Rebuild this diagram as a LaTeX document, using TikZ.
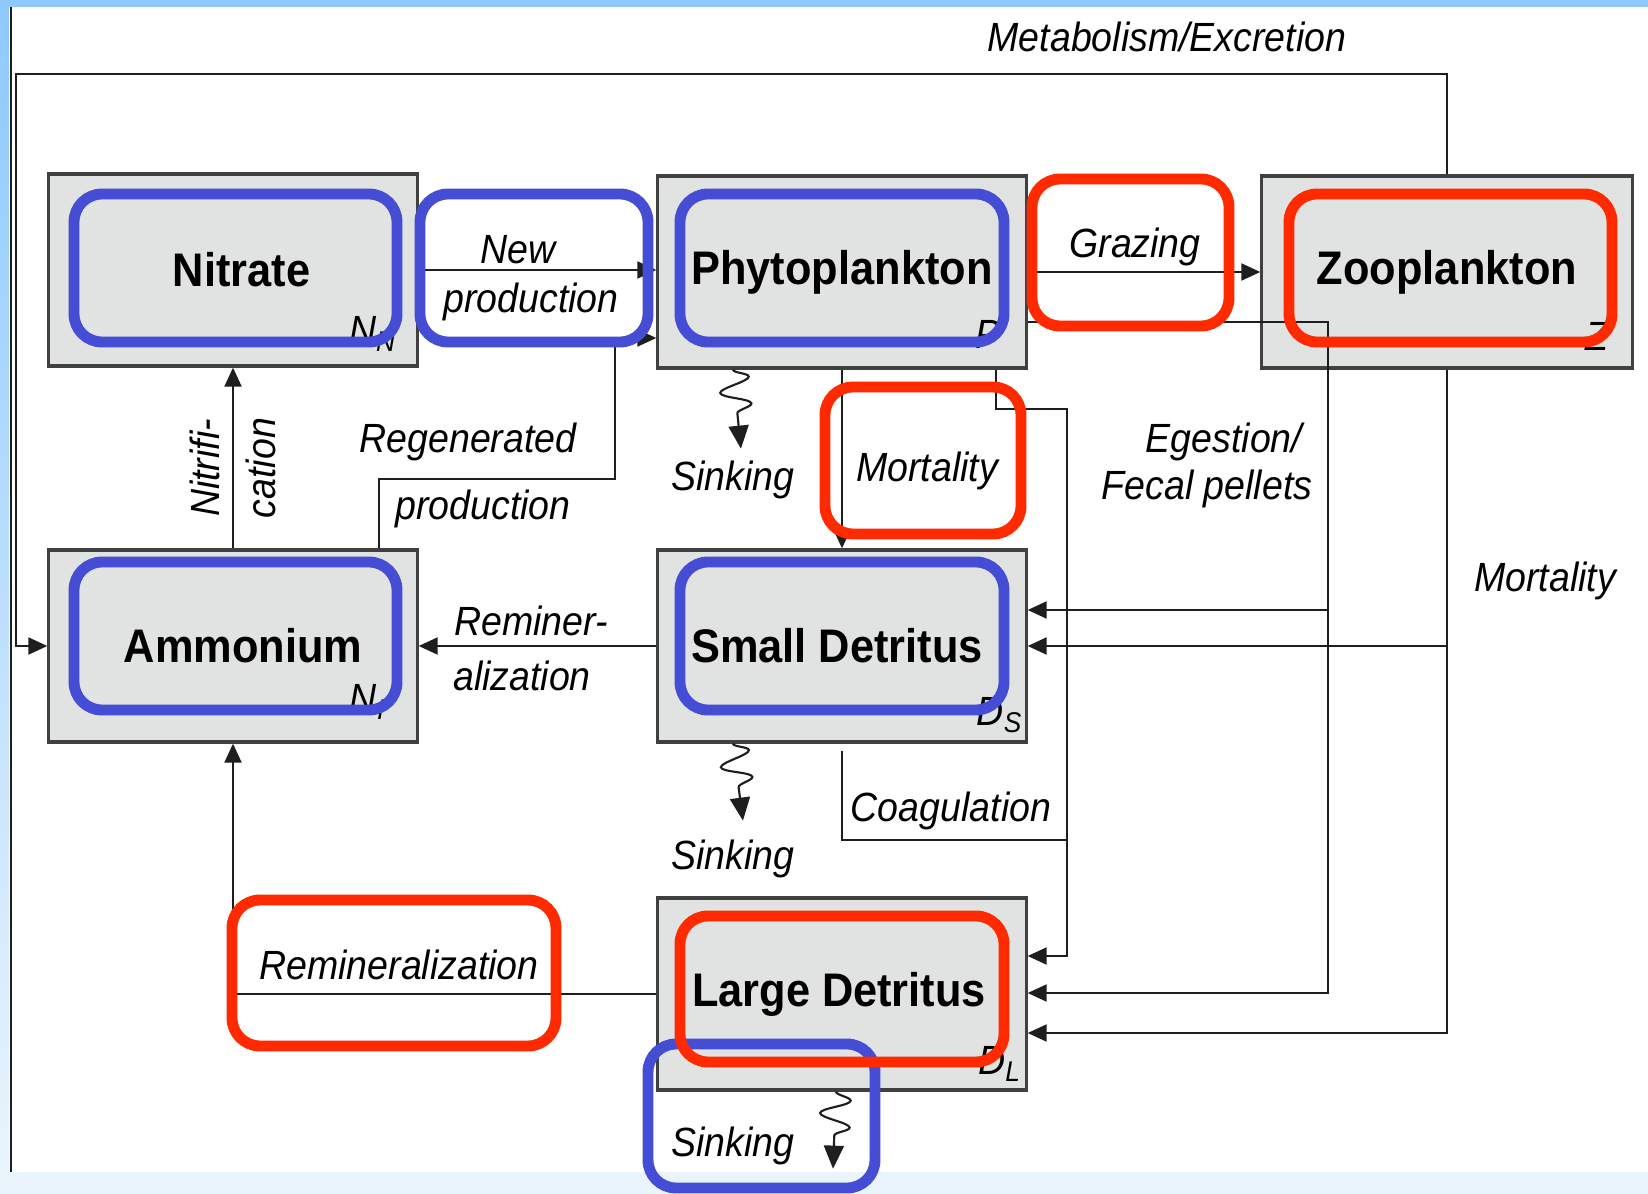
\documentclass[tikz,border=0pt]{standalone}
\usepackage{fontspec}
\setmainfont{Liberation Sans}[FakeStretch=0.92]
\usetikzlibrary{arrows.meta,decorations.pathmorphing}

\definecolor{boxgray}{HTML}{E1E2E2}
\definecolor{markblue}{HTML}{444DD4}
\definecolor{markred}{HTML}{FF2A00}
\definecolor{edgeblue}{HTML}{8EC9FD}
\definecolor{footblue}{HTML}{EAF4FD}
\definecolor{ink}{HTML}{1E1E1E}

\begin{document}
\begin{tikzpicture}[x=0.01cm, y=-0.01cm,
    Box/.style={draw=ink!85, line width=0.9pt, fill=boxgray,
        minimum width=3.68cm, minimum height=1.92cm,
        font=\fontsize{13.4}{15}\selectfont\bfseries},
    Flow/.style={draw=ink, line width=0.6pt},
    Arr/.style={Flow, -{Triangle[length=1.9mm,width=1.7mm]}},
    Sink/.style={Flow, -{Triangle[length=2.3mm,width=2mm]}, decorate,
        decoration={snake, amplitude=1.5mm, segment length=2.7mm, post length=2.6mm}},
    Lbl/.style={font=\fontsize{11.6}{13}\selectfont\itshape, inner sep=0pt},
    MarkB/.style={draw=markblue, line width=3.1pt, rounded corners=0.28cm},
    MarkR/.style={draw=markred, line width=3.1pt, rounded corners=0.28cm}]

% page and screen edges
\fill[white] (0,0) rectangle (1648,1194);
\useasboundingbox (0,0) rectangle (1648,1194);
\fill[edgeblue] (0,0) rectangle (1648,7);
\shade[top color=edgeblue, bottom color=footblue] (0,7) rectangle (9,1172);
\fill[footblue] (0,1172) rectangle (1648,1194);
\draw[ink, line width=0.6pt] (11,7) -- (11,1172);

% pools
\node[Box] (nitrate) at (233,270) {\hspace*{0.17cm}Nitrate};
\node[Box] (phyto) at (842,272) {Phytoplankton};
\node[Box, minimum width=3.70cm] (zoo) at (1447,272) {Zooplankton};
\node[Box] (ammonium) at (233,646) {\hspace*{0.2cm}Ammonium};
\node[Box] (smalldet) at (842,646) {Small Detritus\hspace*{0.1cm}};
\node[Box] (largedet) at (842,994) {Large Detritus\hspace*{0.06cm}};

\node[Lbl] (nn) at (373,334) {N\textsubscript{N}};
\node[Lbl] (pp) at (988,334) {P};
\node[Lbl] (zz) at (1597,336) {Z};
\node[Lbl] (ni) at (368,702) {N\textsubscript{I}};
\node[Lbl] (ds) at (1000,715) {D\textsubscript{S}};
\node[Lbl] (dl) at (1000,1064) {D\textsubscript{L}};

% metabolism/excretion
\draw[Arr] (zoo.north) -- (1447,74) -- (16,74) |- (ammonium.west);
\node[Lbl] (metab) at (1167,37) {Metabolism/Excretion};

% uptake
\draw[Arr] (nitrate.east) -- (nitrate.east -| phyto.west);
\node[Lbl] (newa) at (518,250) {New};
\node[Lbl] (newb) at (531,302) {production};
\draw[Arr] ([xshift=1.46cm]ammonium.north) |- (615,479) -- (615,338) -- (615,338 -| phyto.west);
\node[Lbl] (rega) at (468,442) {Regenerated};
\node[Lbl] (regb) at (483,509) {production};

% nitrification
\draw[Arr] (ammonium.north) -- (nitrate.south);
\node[Lbl, rotate=90] (nitra) at (205,468) {Nitrifi-};
\node[Lbl, rotate=90] (nitrb) at (261,468) {cation};

% grazing
\draw[Arr] (phyto.east) -- (phyto.east -| zoo.west);
\node[Lbl] (graz) at (1135,247) {Grazing};

% phytoplankton losses
\draw[Sink] ([xshift=-1.09cm]phyto.south) -- ++(8,79);
\node[Lbl] (sinka) at (733,480) {Sinking};
\draw[Arr] (phyto.south) -- (smalldet.north);
\node[Lbl] (morta) at (927,471) {Mortality};
\draw[Arr] ([xshift=1.54cm]phyto.south) |- (1067,409) -- (1067,956) -- (1067,956 -| largedet.east);

% coagulation
\draw[Flow] ([yshift=-0.07cm]smalldet.south) |- (1067,840);
\node[Lbl] (coag) at (951,811) {Coagulation};

% egestion
\draw[Arr] ([yshift=-0.5cm]phyto.east) -| (1328,993) -- (1328,993 -| largedet.east);
\draw[Arr] (1328,610) -- (1328,610 -| smalldet.east);
\node[Lbl] (egea) at (1224,442) {Egestion/};
\node[Lbl] (egeb) at (1207,489) {Fecal pellets};

% zooplankton mortality
\draw[Arr] (zoo.south) -- (1447,1033) -- (1447,1033 -| largedet.east);
\draw[Arr] (1447,646) -- (smalldet.east);
\node[Lbl] (mortb) at (1545,581) {Mortality};

% small detritus losses
\draw[Arr] (smalldet.west) -- (ammonium.east);
\node[Lbl] (rema) at (531,621) {Reminer-};
\node[Lbl] (remb) at (522,676) {alization};
\draw[Sink] ([xshift=-1.09cm]smalldet.south) -- ++(10,77);
\node[Lbl] (sinkb) at (733,859) {Sinking};

% large detritus losses
\draw[Arr] (largedet.west) -| (ammonium.south);
\node[Lbl] (remc) at (399,965) {Remineralization};
\draw[Sink] ([xshift=-0.06cm]largedet.south) -- ++(-3,77);
\node[Lbl] (sinkc) at (733,1146) {Sinking};

% highlights
\draw[MarkB] (74,194) rectangle (397,342);
\draw[MarkB] (420,194) rectangle (648,342);
\draw[MarkB] (680,194) rectangle (1004,342);
\draw[MarkB] (74,562) rectangle (397,710);
\draw[MarkB] (680,562) rectangle (1004,710);
\draw[MarkB] (648,1044) rectangle (875,1188);
\draw[MarkR] (1032,179) rectangle (1229,326);
\draw[MarkR] (1289,194) rectangle (1612,342);
\draw[MarkR] (825,387) rectangle (1021,534);
\draw[MarkR] (232,900) rectangle (556,1046);
\draw[MarkR] (680,916) rectangle (1004,1062);
\end{tikzpicture}
\end{document}
